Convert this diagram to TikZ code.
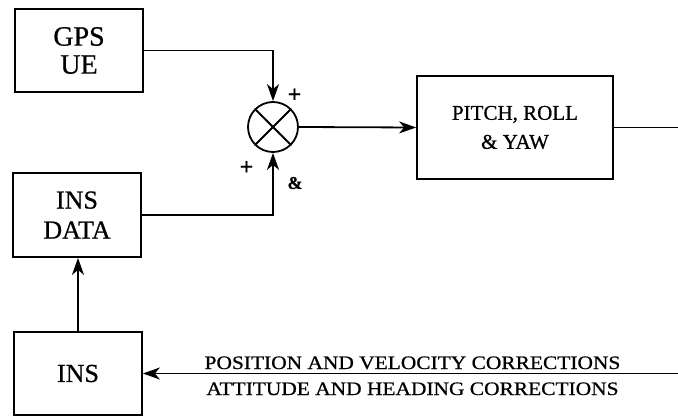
\documentclass[tikz,border=0pt]{standalone}
\usepackage{fontspec}
\setmainfont{Liberation Serif}[FakeBold=0.7]
\usetikzlibrary{arrows.meta}
\begin{document}
\begin{tikzpicture}[x=1pt,y=-1pt,
  blk/.style={draw,line width=1.8pt,inner sep=0pt,align=center},
  conn/.style={line width=1.8pt},
  arr/.style={conn,-{Stealth[length=17pt,width=12pt,inset=5pt]}},
  sgn/.style={font=\fontsize{24}{24}\selectfont\bfseries,inner sep=0pt},
  lbl/.style={font=\fontsize{19}{19}\selectfont,inner sep=0pt,anchor=base}]
\useasboundingbox (0,0) rectangle (678,417);
\node[blk,minimum width=128pt,minimum height=83pt,font=\fontsize{28}{28}\selectfont] (gps) at (79,50.5) {GPS\\UE};
\node[blk,minimum width=128pt,minimum height=84pt,font=\fontsize{26}{30}\selectfont] (insd) at (77,215) {INS\\DATA};
\node[blk,minimum width=128pt,minimum height=83pt,font=\fontsize{26}{30}\selectfont] (ins) at (78,373.5) {INS};
\node[blk,minimum width=196pt,minimum height=103pt,font=\fontsize{21}{29}\selectfont] (pry) at (515,127.5) {PITCH, ROLL\\\& YAW};
\node[draw,circle,minimum size=50pt,inner sep=0pt,line width=1.8pt] (sum) at (273,127) {};
\draw[conn] (sum.north west) -- (sum.south east);
\draw[conn] (sum.north east) -- (sum.south west);
\draw[arr] (gps.east) -| (sum.north);
\draw[arr] (insd.east) -| (sum.south);
\draw[arr] (sum.east) -- (pry.west);
\coordinate (outR) at (678,127.5);
\draw[conn] (pry.east) -- (outR);
\coordinate (fbR) at (678,373.5);
\draw[arr] (fbR) -- (ins.east);
\draw[arr] (ins.north) -- (ins.north |- insd.south);
\node[sgn] (p1) at (294.5,95.5) {+};
\node[sgn] (p2) at (246.5,168) {+};
\node[inner sep=0pt,font=\fontsize{18}{18}\selectfont\bfseries] (p3) at (295,183) {\&};
\node[lbl] (t1) at (412.5,369) {\scalebox{1.127}[1]{POSITION AND VELOCITY CORRECTIONS}};
\node[lbl] (t2) at (412.5,395) {\scalebox{1.127}[1]{ATTITUDE AND HEADING CORRECTIONS}};
\end{tikzpicture}
\end{document}
